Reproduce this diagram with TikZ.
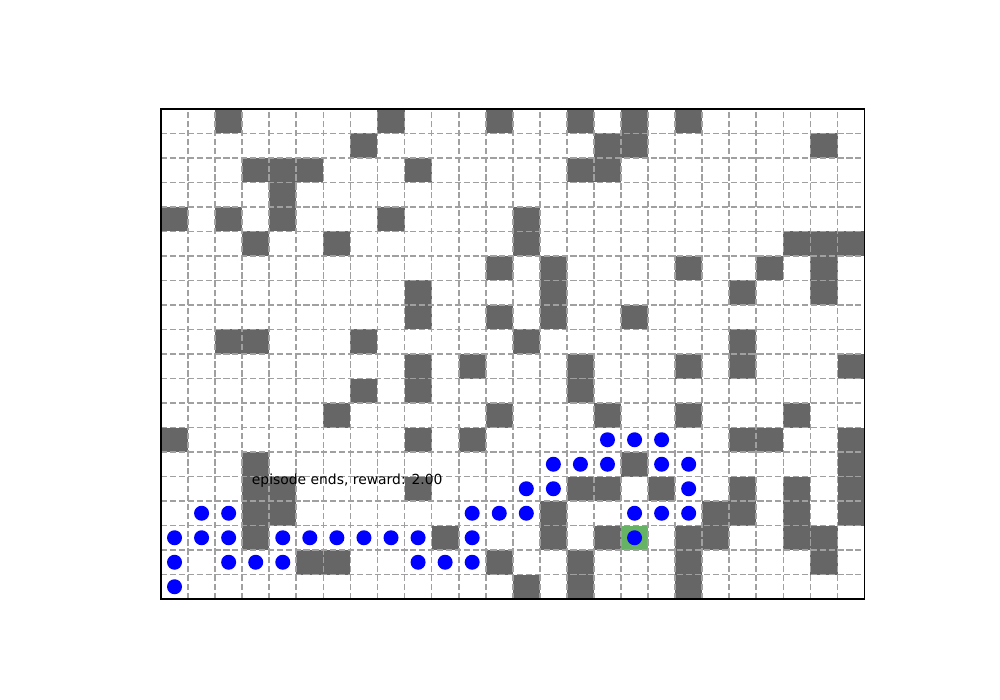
\documentclass[tikz,border=0pt]{standalone}
\usepackage{fontspec}
\setmainfont{DejaVu Sans}
\usepackage{tikz}
\definecolor{WallGray}{RGB}{102,102,102}
\definecolor{GridGray}{RGB}{160,160,160}
\definecolor{GoalGreen}{RGB}{102,179,102}
\definecolor{PathBlue}{RGB}{0,0,255}

\begin{document}
\begin{tikzpicture}[
    x=27.06pt, y=-24.5pt,
    wall/.style={fill=WallGray},
    goal/.style={fill=GoalGreen},
    gridline/.style={GridGray, line width=1.67pt, dash pattern=on 6.2pt off 2.7pt},
    frame/.style={draw=black, line width=1.4pt},
    visit/.style={fill=PathBlue},
    msgtext/.style={anchor=base west, inner sep=0pt, font=\fontsize{13.89}{16}\selectfont}
  ]
  \useasboundingbox (-161pt,109pt) rectangle (839pt,-591pt);
  % walls: row / columns
  \foreach \rw/\cls in {0/{2,8,12,15,17,19}, 1/{7,16,17,24}, 2/{3,4,5,9,15,16},
      3/{4}, 4/{0,2,4,8,13}, 5/{3,6,13,23,24,25}, 6/{12,14,19,22,24},
      7/{9,14,21,24}, 8/{9,12,14,17}, 9/{2,3,7,13,21}, 10/{9,11,15,19,21,25},
      11/{7,9,15}, 12/{6,12,16,19,23}, 13/{0,9,11,21,22,25}, 14/{3,17,25},
      15/{3,4,9,15,16,18,21,23,25}, 16/{3,4,14,20,21,23,25},
      17/{3,10,14,16,19,20,23,24}, 18/{5,6,12,15,19,24}, 19/{13,15,19}}
    \foreach \cl in \cls
      \fill[wall] (\cl,\rw) rectangle ++(1,1);
  % goal cell
  \fill[goal] (17,17) rectangle ++(1,1);
  % dashed grid
  \foreach \cl in {1,...,25}
    \draw[gridline] (\cl,20) -- (\cl,0);
  \foreach \rw in {1,...,19}
    \draw[gridline] (0,\rw) -- (26,\rw);
  \draw[frame] (0,0) rectangle (26,20);
  % visited cells
  \foreach \rw/\cls in {13/{16,17,18}, 14/{14,15,16,18,19}, 15/{13,14,19},
      16/{1,2,11,12,13,17,18,19}, 17/{0,1,2,4,5,6,7,8,9,11,17},
      18/{0,2,3,4,9,10,11}, 19/{0}}
    \foreach \cl in \cls
      \fill[visit] (\cl+0.5,\rw+0.5) circle[radius=7.5pt];
  \node[msgtext] (msg) at (3.352,15.31) {episode ends, reward: 2.00};
\end{tikzpicture}
\end{document}
